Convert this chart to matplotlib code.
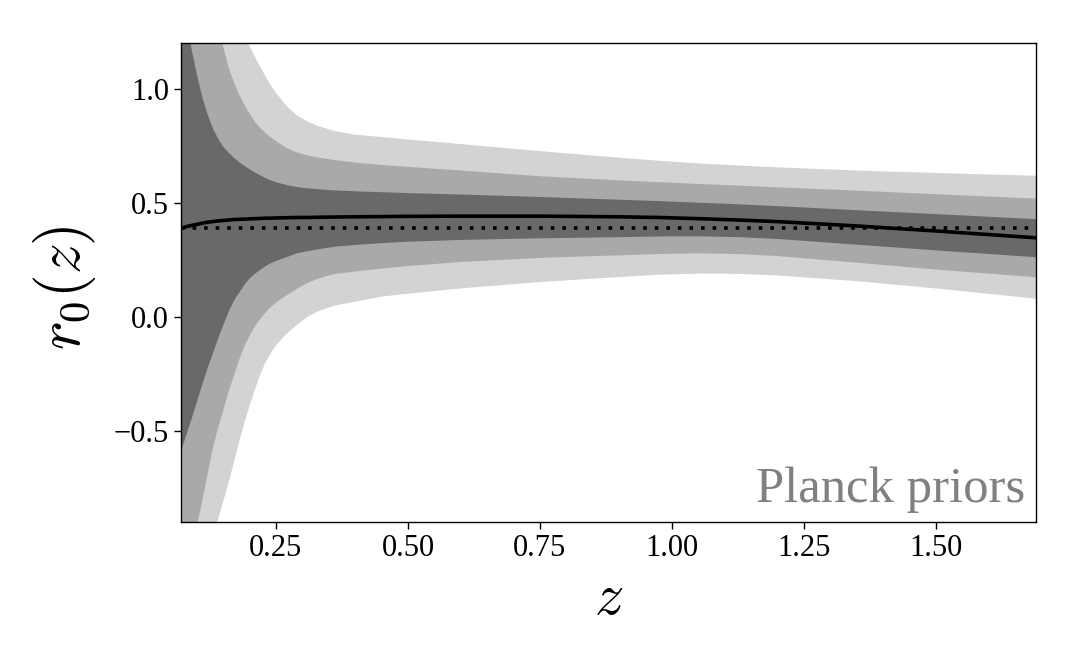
import matplotlib
matplotlib.use("Agg")
import matplotlib.pyplot as plt

plt.rcParams['font.family'] = ['Liberation Serif', 'DejaVu Serif']
plt.rcParams['mathtext.fontset'] = 'cm'

# Redshift grid
z = [0.07, 0.08, 0.09, 0.10, 0.11, 0.12, 0.13, 0.14, 0.15, 0.16, 0.17, 0.18,
     0.19, 0.20, 0.21, 0.22, 0.23, 0.24, 0.25, 0.27, 0.29, 0.31, 0.33, 0.36,
     0.40, 0.45, 0.50, 0.60, 0.75, 0.90, 0.975, 1.05, 1.125, 1.20, 1.35, 1.50, 1.69]

# Best fit r0(z)
r0_mean = [0.388, 0.395, 0.400, 0.405, 0.410, 0.414, 0.417, 0.420, 0.422, 0.424,
           0.426, 0.427, 0.428, 0.429, 0.430, 0.431, 0.432, 0.432, 0.433, 0.434,
           0.435, 0.435, 0.436, 0.437, 0.438, 0.439, 0.440, 0.441, 0.441, 0.438,
           0.435, 0.430, 0.424, 0.417, 0.398, 0.376, 0.346]

# 1 sigma
s1_up = [1.42, 1.29, 1.165, 1.055, 0.96, 0.885, 0.825, 0.78, 0.745, 0.72, 0.698,
         0.679, 0.662, 0.647, 0.634, 0.621, 0.609, 0.599, 0.591, 0.579, 0.570,
         0.565, 0.561, 0.556, 0.552, 0.548, 0.544, 0.538, 0.527, 0.515, 0.509,
         0.502, 0.495, 0.487, 0.469, 0.452, 0.430]
s1_lo = [-0.58, -0.51, -0.44, -0.365, -0.29, -0.22, -0.155, -0.09, -0.03, 0.028,
         0.075, 0.11, 0.145, 0.172, 0.192, 0.209, 0.225, 0.238, 0.247, 0.264, 0.281,
         0.29, 0.298, 0.309, 0.317, 0.325, 0.331, 0.339, 0.346, 0.351, 0.354, 0.355,
         0.351, 0.343, 0.318, 0.293, 0.263]

# 2 sigma
s2_up = [2.6, 2.3, 2.05, 1.85, 1.68, 1.53, 1.40, 1.28, 1.183, 1.095, 1.03, 0.975,
         0.93, 0.89, 0.855, 0.828, 0.806, 0.787, 0.77, 0.74, 0.72, 0.707, 0.698,
         0.687, 0.676, 0.665, 0.657, 0.641, 0.616, 0.598, 0.590, 0.582, 0.575,
         0.567, 0.553, 0.537, 0.518]
s2_lo = [-1.30, -1.16, -1.03, -0.92, -0.81, -0.695, -0.58, -0.49, -0.41, -0.33,
         -0.26, -0.19, -0.13, -0.083, -0.042, -0.01, 0.018, 0.042, 0.062, 0.094,
         0.123, 0.149, 0.167, 0.187, 0.198, 0.211, 0.222, 0.24, 0.258, 0.269, 0.275,
         0.278, 0.275, 0.266, 0.237, 0.207, 0.173]

# 3 sigma
s3_up = [5.0, 4.2, 3.6, 3.1, 2.7, 2.4, 2.1, 1.9, 1.7, 1.55, 1.43, 1.33, 1.25,
         1.188, 1.14, 1.095, 1.055, 1.015, 0.982, 0.924, 0.882, 0.855, 0.836, 0.815,
         0.798, 0.788, 0.777, 0.757, 0.726, 0.697, 0.684, 0.672, 0.663, 0.655,
         0.641, 0.630, 0.618]
s3_lo = [-1.6, -1.47, -1.35, -1.24, -1.14, -1.05, -0.97, -0.89, -0.81, -0.73,
         -0.64, -0.55, -0.465, -0.39, -0.32, -0.255, -0.20, -0.16, -0.125, -0.075,
         -0.035, 0.0, 0.024, 0.048, 0.066, 0.088, 0.101, 0.124, 0.152, 0.174, 0.184,
         0.189, 0.188, 0.181, 0.156, 0.124, 0.079]

r0_fid = 0.39

xticks = [0.25, 0.50, 0.75, 1.00, 1.25, 1.50]
xticklabels = ["0.25", "0.50", "0.75", "1.00", "1.25", "1.50"]
yticks = [-0.5, 0.0, 0.5, 1.0]
yticklabels = ["\u22120.5", "0.0", "0.5", "1.0"]

fig = plt.figure(figsize=(10.8, 6.68), dpi=100)
ax = fig.add_axes([181/1080, 1 - 522/668, 855/1080, 479/668])

ax.fill_between(z, s3_lo, s3_up, color='#d3d3d3', linewidth=0)
ax.fill_between(z, s2_lo, s2_up, color='#a9a9a9', linewidth=0)
ax.fill_between(z, s1_lo, s1_up, color='#696969', linewidth=0)
ax.plot(z, r0_mean, color='black', lw=2.6, solid_capstyle='butt')
ax.axhline(r0_fid, color='black', lw=2.6, linestyle=(0, (1, 2.2)))

ax.set_xlim(0.07, 1.69)
ax.set_ylim(-0.9, 1.2)
ax.set_xticks(xticks)
ax.set_xticklabels(xticklabels)
ax.set_yticks(yticks)
ax.set_yticklabels(yticklabels)
ax.tick_params(labelsize=22, length=5, width=1)
for s in ax.spines.values():
    s.set_linewidth(1.0)

ax.set_xlabel(r'$z$', fontsize=42, labelpad=8)
ax.set_ylabel(r'$r_0(z)$', fontsize=44)
ax.yaxis.set_label_coords(-0.097, 0.49)

ax.text(0.987, 0.042, 'Planck priors', transform=ax.transAxes, ha='right',
        va='baseline', fontsize=36.5, color='gray')

fig.savefig('out.png', dpi=100)
